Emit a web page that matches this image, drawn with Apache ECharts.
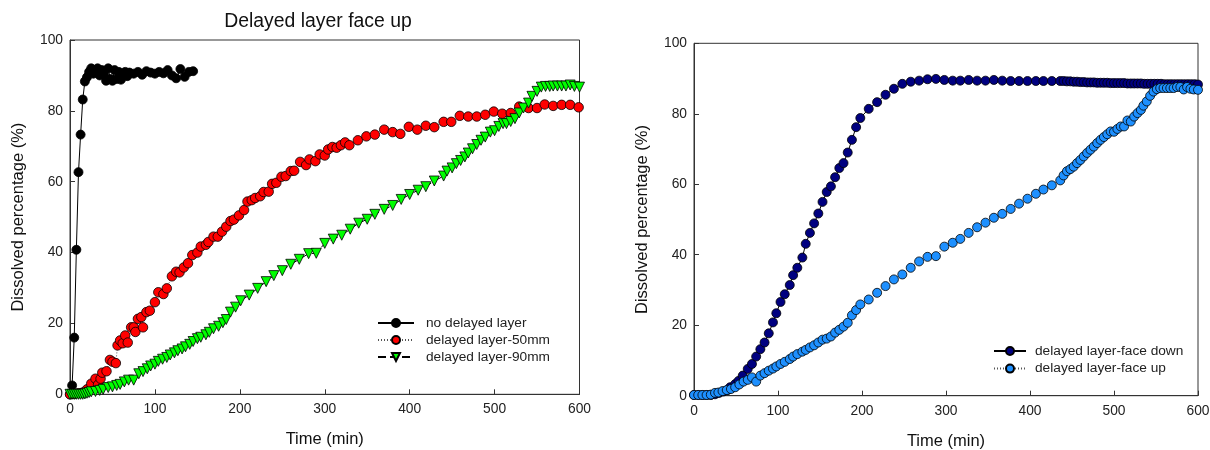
<!DOCTYPE html>
<html>
<head>
<meta charset="utf-8">
<script src="https://cdn.jsdelivr.net/npm/echarts@6/dist/echarts.min.js"></script>
<style>
  html, body { margin: 0; padding: 0; background: #fff; }
  #chart { width: 1210px; height: 450px; }
</style>
</head>
<body>
<div id="chart"></div>
<script>
// ---------- Data ----------
const titleText = 'Delayed layer face up';
const xTicks = [0, 100, 200, 300, 400, 500, 600];
const yTicks = [0, 20, 40, 60, 80, 100];

// Left panel: no delayed layer
const noLayerT = [0, 2.5, 5, 7.5, 10, 12.5, 15, 17.5, 20, 22.5, 25, 27.5, 30, 32.5, 35, 37.5, 40, 42.5, 45, 47.5, 50, 52.5, 55, 57.5, 60, 62.5, 65, 67.5, 70, 75, 80, 85, 90, 95, 100, 105, 110, 115, 120, 125, 130, 135, 140, 145];
const noLayerV = [0, 2.5, 16, 40.8, 62.7, 73.3, 83.2, 88.3, 89.5, 91, 92, 90.5, 91.5, 92, 90, 91.5, 90.5, 88.5, 92, 89, 88.5, 91.5, 89, 91, 88.8, 90.5, 91, 89.8, 90.8, 90.5, 91, 90.2, 91.2, 90.8, 90.5, 91, 90.6, 91.5, 90, 89.2, 91.8, 89.6, 91, 91.2];

// Left panel: delayed layer-50mm
const layer50T = [0, 5, 10, 15, 20, 25, 30, 33, 36, 38, 43, 47, 50, 54, 56, 59, 62, 65, 68, 72, 75, 77, 80, 84, 86, 90, 94, 100, 104, 110, 114, 120, 125, 129, 134, 139, 144, 150, 154, 160, 163, 169, 174, 179, 184, 189, 193, 199, 205, 209, 214, 218, 224, 228, 234, 238, 243, 249, 254, 260, 264, 271, 278, 282, 289, 294, 300, 304, 309, 314, 319, 324, 329, 339, 349, 359, 370, 380, 389, 399, 409, 419, 429, 440, 449, 459, 469, 479, 489, 499, 509, 519, 529, 540, 550, 559, 569, 579, 589, 599];
const layer50V = [0, 0.1, 0.3, 0.5, 1.4, 3.0, 4.4, 2.7, 4.4, 6.1, 6.5, 9.7, 9.2, 8.8, 13.8, 15.2, 14.4, 16.6, 14.6, 18.9, 18.9, 17.6, 21.3, 21.8, 18.9, 23.2, 23.6, 26, 28.8, 28.3, 29.9, 33.3, 34.6, 34.4, 35.8, 37, 39.3, 40, 41.7, 42.2, 43, 44.5, 44.5, 45.9, 47.3, 48.9, 49.3, 50.5, 52, 54.4, 54.8, 55.4, 55.9, 57.1, 57.2, 59.4, 59.7, 61.4, 61.6, 63, 63.1, 65.6, 64.7, 66.3, 65.8, 67.7, 67.4, 69.1, 69.8, 69.6, 70.3, 71.1, 70.3, 71.7, 72.8, 73.3, 74.7, 74, 73.5, 75.5, 74.7, 75.8, 75.4, 76.9, 76.9, 78.6, 78.4, 78.4, 78.9, 79.8, 79.2, 79.4, 81.2, 80.8, 80.8, 81.8, 81.4, 81.7, 81.7, 81.0];

// Left panel: delayed layer-90mm
const layer90T = [0, 2.5, 5, 7.5, 10, 12.5, 15, 17.5, 20, 22.5, 25, 30, 35, 39, 45, 50, 55, 59, 64, 69, 75, 81, 86, 91, 95, 100, 104, 109, 114, 118, 123, 127, 132, 136, 141, 145, 150, 154, 160, 164, 169, 175, 180, 184, 189, 195, 201, 211, 221, 231, 240, 250, 260, 270, 281, 290, 300, 310, 320, 330, 340, 350, 359, 370, 380, 390, 400, 410, 419, 429, 440, 444, 450, 455, 460, 465, 469, 474, 479, 484, 489, 495, 500, 505, 510, 514, 519, 524, 529, 534, 540, 544, 550, 555, 560, 565, 569, 574, 579, 584, 589, 594, 600];
const layer90V = [0, 0, 0, 0, 0, 0, 0, 0.1, 0.3, 0.5, 0.7, 0.8, 1.1, 1.4, 1.9, 2.1, 2.5, 2.8, 3.5, 4.0, 4.0, 5.8, 6.4, 7.2, 8.0, 8.5, 9.3, 9.9, 10.4, 11.1, 11.7, 12.3, 12.8, 13.4, 14.1, 14.9, 15.7, 16.1, 16.8, 17.5, 18.5, 19.2, 20.2, 21.1, 23.2, 24.6, 26.4, 28, 29.9, 31.8, 33.5, 34.9, 36.7, 38.1, 39.7, 39.8, 42.6, 43.8, 44.9, 46.6, 48.3, 49.4, 50.8, 52.2, 53.3, 55, 56.4, 57.6, 58.6, 60.2, 61.6, 63, 63.9, 65.1, 66, 67, 68.1, 69.3, 70.5, 71.7, 72.6, 74, 74.4, 75.6, 76.4, 76.4, 77.0, 77.8, 79.4, 80.8, 82.2, 84.1, 85.5, 86.7, 86.9, 86.9, 87, 87, 87, 87, 87.3, 86.9, 86.7];

// Right panel: delayed layer-face down
const faceDownT = [0, 5, 10, 15, 20, 25, 30, 35, 40, 43, 49, 53, 58, 64, 69, 74, 79, 84, 89, 94, 98, 103, 108, 114, 118, 123, 129, 133, 138, 143, 148, 153, 158, 163, 168, 173, 178, 183, 188, 193, 198, 208, 218, 228, 238, 248, 258, 268, 278, 288, 298, 308, 317, 327, 337, 347, 357, 367, 377, 387, 397, 407, 416, 426, 436, 440, 444, 448, 452, 456, 460, 464, 468, 472, 476, 480, 484, 488, 492, 496, 500, 504, 508, 512, 516, 520, 524, 528, 532, 536, 540, 544, 548, 552, 556, 560, 564, 568, 572, 576, 580, 584, 588, 592, 596, 600];
const faceDownV = [0.2, 0.2, 0.2, 0.2, 0.2, 0.4, 0.8, 1.2, 1.6, 2.4, 3.3, 4.2, 5.7, 7.6, 9.0, 11.1, 13.2, 15.1, 17.7, 20.8, 23.4, 26.6, 28.8, 31.4, 34.2, 36.3, 39.2, 43.1, 46.2, 48.9, 51.7, 55, 57.8, 59.4, 62, 64.6, 66, 69, 72.6, 76.2, 78.8, 81.4, 83.3, 85.4, 87.1, 88.5, 89.1, 89.4, 89.8, 89.9, 89.6, 89.4, 89.4, 89.6, 89.4, 89.4, 89.6, 89.4, 89.3, 89.3, 89.3, 89.3, 89.3, 89.3, 89.3, 89.3, 89.2, 89.2, 89.1, 89.1, 89.0, 89.0, 88.9, 88.9, 88.9, 88.8, 88.8, 88.8, 88.8, 88.7, 88.7, 88.7, 88.7, 88.7, 88.6, 88.6, 88.6, 88.6, 88.6, 88.5, 88.5, 88.5, 88.5, 88.5, 88.5, 88.4, 88.4, 88.4, 88.4, 88.4, 88.4, 88.4, 88.4, 88.4, 88.4, 88.3];

// Right panel: delayed layer-face up
const faceUpT = [0, 5, 10, 15, 20, 25, 29, 34, 39, 44, 49, 54, 59, 64, 69, 74, 79, 84, 89, 94, 98, 103, 108, 114, 118, 123, 129, 133, 138, 143, 148, 153, 158, 163, 168, 173, 178, 183, 188, 193, 198, 208, 218, 228, 238, 248, 258, 268, 278, 288, 298, 308, 317, 327, 337, 347, 357, 367, 377, 387, 397, 407, 416, 426, 436, 440, 444, 448, 452, 456, 460, 464, 468, 472, 476, 480, 484, 488, 492, 496, 500, 504, 508, 512, 516, 520, 524, 528, 532, 535, 539, 543, 547, 551, 555, 559, 563, 567, 571, 575, 579, 583, 587, 591, 595, 600];
const faceUpV = [0.2, 0.2, 0.2, 0.2, 0.3, 0.8, 0.9, 1.3, 1.6, 1.9, 2.4, 3.2, 4.0, 4.5, 5.2, 4.0, 5.7, 6.4, 7.1, 7.7, 8.3, 9.0, 9.6, 10.4, 11.1, 11.8, 12.5, 13.0, 13.7, 14.3, 15.1, 15.9, 16.2, 16.8, 17.9, 18.7, 19.6, 20.7, 22.8, 24.3, 25.9, 27.3, 29.2, 31.1, 33, 34.4, 36.3, 38.1, 39.4, 39.6, 42.3, 43.4, 44.5, 46.2, 47.8, 49.1, 50.5, 51.6, 53, 54.5, 55.9, 57.3, 58.5, 59.7, 61.1, 62.5, 63.7, 64.3, 65, 66, 66.9, 67.9, 68.9, 69.8, 70.7, 71.7, 72.6, 73.4, 74.2, 75, 74.9, 75.7, 76.4, 76.4, 78.1, 77.8, 79.2, 80.2, 81.1, 82.3, 83.5, 85.1, 86.3, 87, 87.3, 87.3, 87.3, 87.3, 87.3, 87.6, 87.6, 86.9, 87.6, 87.1, 86.9, 86.8];

const seriesNames = {
  noLayer: 'no delayed layer',
  layer50: 'delayed layer-50mm',
  layer90: 'delayed layer-90mm',
  faceDown: 'delayed layer-face down',
  faceUp: 'delayed layer-face up'
};

// ---------- Chart ----------
const pairs = (t, v) => t.map((x, i) => [x, v[i]]);
const FONT = 'Arial, "Liberation Sans", Helvetica, sans-serif';

function xAxisFor(gi) {
  return {
    type: 'value', gridIndex: gi, min: xTicks[0], max: xTicks[xTicks.length - 1], interval: 100,
    name: 'Time (min)', nameLocation: 'middle', nameGap: 37,
    nameTextStyle: { fontFamily: FONT, fontSize: 16.5, color: '#111' },
    axisLine: { show: true, onZero: false, lineStyle: { color: '#333', width: 1 } },
    axisTick: { show: true, inside: true, length: 5, lineStyle: { color: '#333' } },
    axisLabel: { fontFamily: FONT, fontSize: 13.8, color: '#222', margin: 8 },
    splitLine: { show: false }
  };
}
function yAxisFor(gi) {
  return {
    type: 'value', gridIndex: gi, min: yTicks[0], max: yTicks[yTicks.length - 1], interval: 20,
    name: 'Dissolved percentage (%)', nameLocation: 'middle', nameRotate: 90, nameGap: 43,
    nameTextStyle: { fontFamily: FONT, fontSize: 16.5, color: '#111' },
    axisLine: { show: true, onZero: false, lineStyle: { color: '#333', width: 1 } },
    axisTick: { show: true, inside: true, length: 5, lineStyle: { color: '#333' } },
    axisLabel: { fontFamily: FONT, fontSize: 13.8, color: '#222', margin: 7 },
    splitLine: { show: false }
  };
}

const border = { borderColor: '#000', borderWidth: 0.8 };

const option = {
  animation: false,
  backgroundColor: '#fff',
  title: {
    text: titleText, left: 318, top: 12, padding: 0, textAlign: 'center',
    textStyle: { fontFamily: FONT, fontSize: 19.4, fontWeight: 'normal', color: '#111' }
  },
  grid: [
    { left: 70, top: 40, width: 509.5, height: 354.3, show: true, borderColor: '#333', borderWidth: 1, backgroundColor: 'transparent', outerBoundsMode: 'none' },
    { left: 694, top: 43.3, width: 504, height: 352.4, show: true, borderColor: '#333', borderWidth: 1, backgroundColor: 'transparent', outerBoundsMode: 'none' }
  ],
  xAxis: [xAxisFor(0), xAxisFor(1)],
  yAxis: [yAxisFor(0), yAxisFor(1)],
  legend: [
    {
      data: [seriesNames.noLayer, seriesNames.layer50, seriesNames.layer90],
      orient: 'vertical', left: 377, top: 316, padding: 0,
      itemWidth: 36, itemHeight: 10, itemGap: 3,
      textStyle: { fontFamily: FONT, fontSize: 13.7, color: '#222', padding: [0, 0, 0, 7] }
    },
    {
      data: [seriesNames.faceDown, seriesNames.faceUp],
      orient: 'vertical', left: 993, top: 344, padding: 0,
      itemWidth: 32, itemHeight: 10, itemGap: 3.6,
      textStyle: { fontFamily: FONT, fontSize: 13.7, color: '#222', padding: [0, 0, 0, 4] }
    }
  ],
  series: [
    {
      name: seriesNames.noLayer, type: 'line', xAxisIndex: 0, yAxisIndex: 0,
      data: pairs(noLayerT, noLayerV), symbol: 'circle', symbolSize: 9,
      itemStyle: Object.assign({ color: '#000' }, border),
      lineStyle: { color: '#000', width: 1, type: 'solid' }
    },
    {
      name: seriesNames.layer50, type: 'line', xAxisIndex: 0, yAxisIndex: 0,
      data: pairs(layer50T, layer50V), symbol: 'circle', symbolSize: 9.5,
      itemStyle: Object.assign({ color: '#ff0000' }, border),
      lineStyle: { color: '#555', width: 1, type: [1, 2] }
    },
    {
      name: seriesNames.layer90, type: 'line', xAxisIndex: 0, yAxisIndex: 0,
      data: pairs(layer90T, layer90V), symbol: 'triangle', symbolRotate: 180, symbolSize: 10,
      itemStyle: Object.assign({ color: '#00ff00' }, border),
      lineStyle: { color: '#000', width: 1, type: [8, 4] }
    },
    {
      name: seriesNames.faceDown, type: 'line', xAxisIndex: 1, yAxisIndex: 1,
      data: pairs(faceDownT, faceDownV), symbol: 'circle', symbolSize: 9,
      itemStyle: Object.assign({ color: '#000080' }, border),
      lineStyle: { color: '#000', width: 1, type: 'solid' }
    },
    {
      name: seriesNames.faceUp, type: 'line', xAxisIndex: 1, yAxisIndex: 1,
      data: pairs(faceUpT, faceUpV), symbol: 'circle', symbolSize: 9,
      itemStyle: Object.assign({ color: '#1e90ff' }, border),
      lineStyle: { color: '#555', width: 1, type: [1, 2] }
    }
  ]
};

const chart = echarts.init(document.getElementById('chart'), null, { renderer: 'canvas' });
chart.setOption(option);
</script>
</body>
</html>
